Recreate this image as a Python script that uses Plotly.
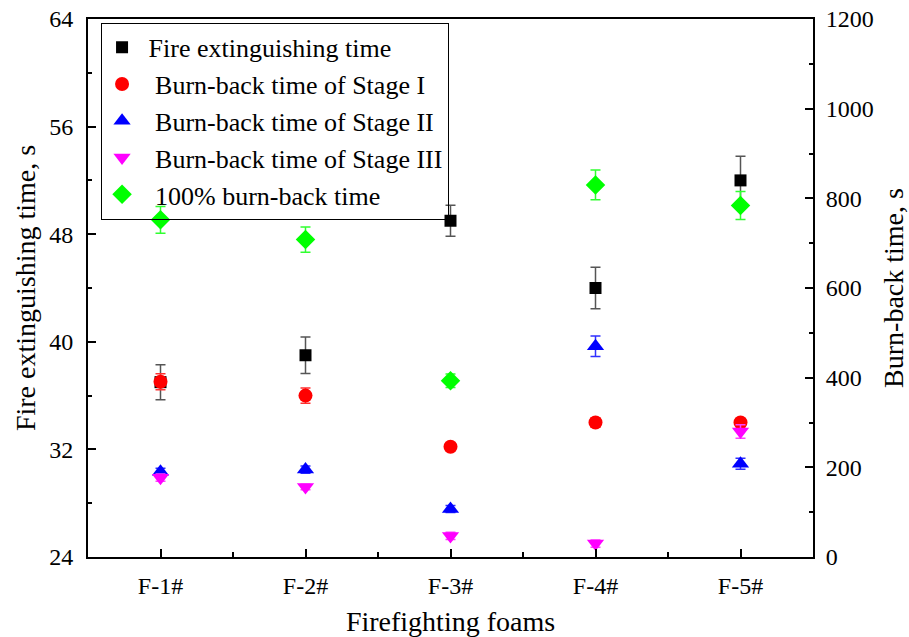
import plotly.graph_objects as go

# Foam samples and measured times
foams = ["F-1#", "F-2#", "F-3#", "F-4#", "F-5#"]

extinguish_time = [37.0, 39.0, 49.0, 44.0, 52.0]      # s, left axis
extinguish_err = [1.3, 1.35, 1.15, 1.55, 1.8]

stage1_time = [391, 360, 246, 300, 300]               # s, right axis
stage1_err = [18, 17, 6, 10, 8]

stage2_time = [190, 195, 107, 470, 208]
stage2_err = [8, 8, 8, 23, 12]

stage3_time = [177, 156, 47, 30, 280]
stage3_err = [8, 6, 8, 8, 15]

full_burnback_time = [752, 708, 393, 830, 784]
full_burnback_err = [30, 28, 15, 33, 31]

FONT = "Liberation Serif"
x_pos = list(range(1, len(foams) + 1))


def err(values, color, thick=1.5, width=5):
    return dict(type="data", array=values, visible=True, color=color,
                thickness=thick, width=width)


fig = go.Figure()

fig.add_trace(go.Scatter(
    x=x_pos, y=extinguish_time, mode="markers", name=" Fire extinguishing time",
    marker=dict(symbol="square", size=12, color="black", line=dict(width=0)),
    error_y=err(extinguish_err, "#555555"), yaxis="y"))

fig.add_trace(go.Scatter(
    x=x_pos, y=stage1_time, mode="markers", name="  Burn-back time of Stage I",
    marker=dict(symbol="circle", size=14, color="#FF0000", line=dict(width=0)),
    error_y=err(stage1_err, "#FF3030"), yaxis="y2"))

fig.add_trace(go.Scatter(
    x=x_pos, y=stage2_time, mode="markers", name="  Burn-back time of Stage II",
    marker=dict(symbol="triangle-up", size=15, color="#0000FF", line=dict(width=0)),
    error_y=err(stage2_err, "#3030FF"), yaxis="y2"))

fig.add_trace(go.Scatter(
    x=x_pos, y=stage3_time, mode="markers", name="  Burn-back time of Stage III",
    marker=dict(symbol="triangle-down", size=15, color="#FF00FF", line=dict(width=0)),
    error_y=err(stage3_err, "#FF40FF"), yaxis="y2"))

fig.add_trace(go.Scatter(
    x=x_pos, y=full_burnback_time, mode="markers", name="  100% burn-back time",
    marker=dict(symbol="diamond", size=15, color="#00FF00", line=dict(width=0)),
    error_y=err(full_burnback_err, "#30FF30"), yaxis="y2"))

axis_common = dict(
    showline=True, linecolor="black", linewidth=2, showgrid=False, zeroline=False,
    ticks="inside", tickcolor="black", tickwidth=2, ticklen=8, automargin=False,
    tickfont=dict(family=FONT, size=24, color="black"),
)

fig.update_layout(
    width=909, height=637,
    margin=dict(l=88, r=96, t=19, b=80),
    paper_bgcolor="white", plot_bgcolor="white",
    font=dict(family=FONT, color="black"),
    showlegend=True,
    legend=dict(
        x=0.018, y=0.993, xanchor="left", yanchor="top",
        bordercolor="black", borderwidth=1, bgcolor="rgba(0,0,0,0)",
        font=dict(family=FONT, size=26, color="black"),
        tracegroupgap=0,
    ),
    xaxis=dict(
        **axis_common,
        range=[0.5, 5.5], tickmode="array", tickvals=x_pos, ticktext=foams,
        ticklabelstandoff=6, mirror=True,
        minor=dict(ticks="inside", ticklen=5, tickwidth=2, tickcolor="black",
                   tick0=0.5, dtick=0.5),
        title=dict(text="Firefighting foams", font=dict(family=FONT, size=28),
                   standoff=31),
    ),
    yaxis=dict(
        **axis_common,
        range=[24, 64], tick0=24, dtick=8, ticklabelstandoff=8,
        minor=dict(ticks="inside", ticklen=4, tickwidth=2, tickcolor="black",
                   tick0=24, dtick=4),
        title=dict(text="Fire extinguishing time, s", font=dict(family=FONT, size=28),
                   standoff=5),
    ),
    yaxis2=dict(
        **axis_common,
        overlaying="y", side="right", anchor="x",
        range=[0, 1200], tick0=0, dtick=200, ticklabelstandoff=6,
        minor=dict(ticks="inside", ticklen=4, tickwidth=2, tickcolor="black",
                   tick0=0, dtick=100),
        title=dict(text="Burn-back time, s", font=dict(family=FONT, size=28),
                   standoff=19),
    ),
)

fig.write_html("out.html")
